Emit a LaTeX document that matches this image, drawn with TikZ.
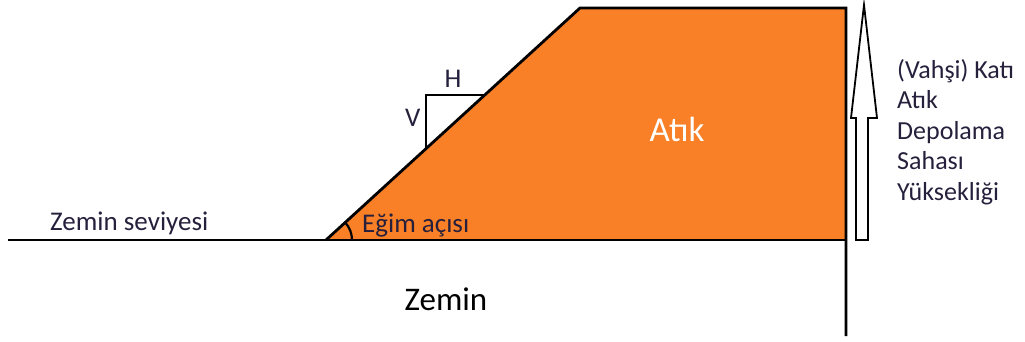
\documentclass[tikz,border=0pt]{standalone}
\usepackage{fontspec}
\setmainfont{Carlito}
\definecolor{atik}{RGB}{249,128,38}
\definecolor{txt}{RGB}{38,32,60}
\begin{document}
\begin{tikzpicture}[x=1pt,y=-1pt,
  edge/.style={line width=2.8pt,black,line join=miter},
  thin/.style={line width=2.2pt,black},
  lbl/.style={font=\fontsize{27}{32}\selectfont,text=txt,inner sep=0pt},
  big/.style={font=\fontsize{33}{38}\selectfont,inner sep=0pt}]
\useasboundingbox (0,0) rectangle (1025,342);
% key points
\coordinate (bl) at (326,240);
\coordinate (tl) at (580,8);
\coordinate (tr) at (846,8);
\coordinate (br) at (846,240);
\coordinate (gl) at (8,240);
\coordinate (vb) at (846,336);
% waste body
\fill[atik] (bl) -- (tl) -- (tr) -- (br) -- cycle;
\draw[edge] (gl) -- (br);
\draw[edge] (bl) -- (tl) -- (tr) -- (vb);
% slope triangle H/V
\coordinate (va) at (426,95);
\coordinate (vl) at (426,148);
\coordinate (ha) at (484.5,95);
\draw[thin] (vl) -- (va) -- (ha);
\node[lbl,anchor=base] (h) at (453,88) {H};
\node[lbl,anchor=base west] (v) at (405,127) {V};
% angle arc
\draw[thin] ([shift={(26,0)}]bl) arc[start angle=0,end angle=-42,radius=26];
\node[lbl,anchor=base west] (egim) at (362,232) {Eğim açısı};
% labels
\node[lbl,anchor=base west] (zs) at (50,230) {Zemin seviyesi};
\node[big,anchor=base] (zemin) at (446,310) {Zemin};
\node[big,anchor=base,text=white,font=\fontsize{35}{40}\selectfont] (atiklbl) at (677,142) {Atık};
% height arrow
\draw[line width=1.8pt,black,fill=white,line join=miter]
  (856,240) -- (856,118) -- (851,118) -- (864,5) -- (877,118) -- (868,118) -- (868,240) -- cycle;
\node[lbl,anchor=north west,align=left,font=\fontsize{26}{30.5}\selectfont] (yuk) at (897,59)
  {(Vahşi) Katı\\Atık\\Depolama\\Sahası\\Yüksekliği};
\end{tikzpicture}
\end{document}
